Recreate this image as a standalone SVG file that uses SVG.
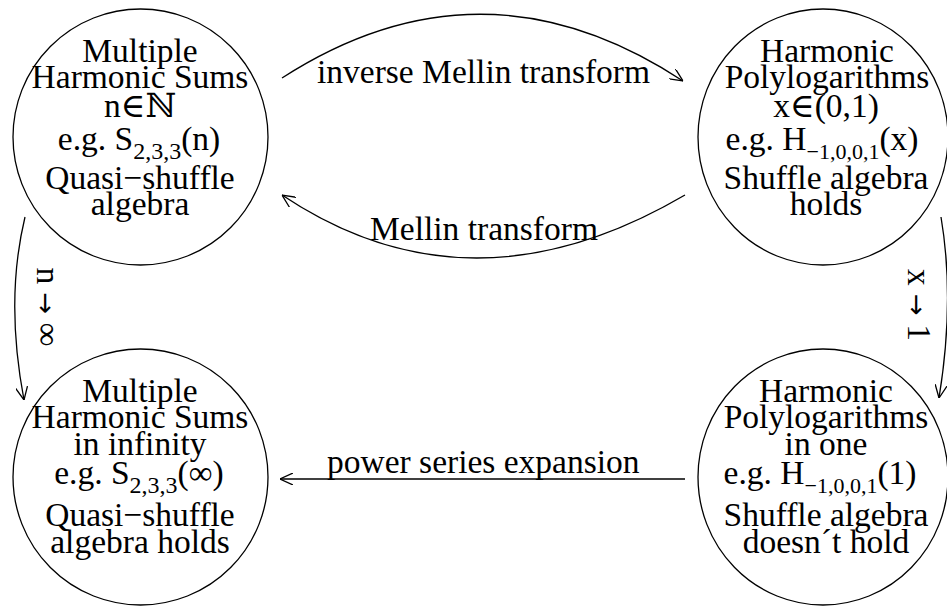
<svg xmlns="http://www.w3.org/2000/svg" width="947" height="608" viewBox="0 0 947 608">
<style>
text{font-family:"Liberation Serif","DejaVu Serif",serif;font-size:33.5px;fill:#000}
.c{text-anchor:middle}
.ring{fill:none;stroke:#000;stroke-width:1.3}
.edge{fill:none;stroke:#000;stroke-width:1.3;marker-end:url(#ah)}
.sub{font-size:24px}
.sub2{font-size:22px}
.arr{font-family:"DejaVu Sans",sans-serif;font-size:26px}
</style>
<defs>
<marker id="ah" viewBox="0 0 13 12" refX="13" refY="6" markerWidth="13" markerHeight="12" markerUnits="userSpaceOnUse" orient="auto">
<path d="M0,0 L13,6 L0,12" fill="none" stroke="#000" stroke-width="1.3"/>
</marker>
</defs>
<g id="connectors">
<path class="edge" d="M282,78 Q482,-51 683,81"/>
<path class="edge" d="M685,195 Q470,321 282,195"/>
<path class="edge" d="M685,479 L280,479"/>
<path class="edge" d="M25,217 Q5,300 24,400"/>
<path class="edge" d="M941,217 Q955,300 939,398"/>
<text x="317" y="83">inverse Mellin transform</text>
<text x="370" y="240">Mellin transform</text>
<text x="327" y="473">power series expansion</text>
<text class="c" transform="translate(37,307) rotate(90)">n <tspan class="arr">→</tspan> ∞</text>
<text class="c" transform="translate(908,305) rotate(90)">x <tspan class="arr">→</tspan> 1</text>
</g>
<g id="mhs">
<ellipse class="ring" cx="140.5" cy="137" rx="127.5" ry="128"/>
<text class="c" x="140" y="62">Multiple</text>
<text class="c" x="140" y="88">Harmonic Sums</text>
<text class="c" x="140" y="117">n∈ℕ</text>
<text class="c" x="139" y="150">e.g. S<tspan class="sub" dy="9">2,3,3</tspan><tspan dy="-9">(n)</tspan></text>
<text class="c" x="140" y="189">Quasi−shuffle</text>
<text class="c" x="140" y="215">algebra</text>
</g>
<g id="hpl">
<ellipse class="ring" cx="823" cy="137" rx="125" ry="128"/>
<text class="c" x="827" y="62">Harmonic</text>
<text class="c" x="827" y="88">Polylogarithms</text>
<text class="c" x="826" y="117">x∈(0,1)</text>
<text class="c" x="822" y="150">e.g. H<tspan class="sub2" dy="9">−1,0,0,1</tspan><tspan dy="-9">(x)</tspan></text>
<text class="c" x="826" y="189">Shuffle algebra</text>
<text class="c" x="826" y="215">holds</text>
</g>
<g id="mhs-inf">
<ellipse class="ring" cx="140.5" cy="477" rx="127.5" ry="128"/>
<text class="c" x="140" y="402">Multiple</text>
<text class="c" x="140" y="428">Harmonic Sums</text>
<text class="c" x="140" y="455">in infinity</text>
<text class="c" x="139" y="484">e.g. S<tspan class="sub" dy="9">2,3,3</tspan><tspan dy="-9">(∞)</tspan></text>
<text class="c" x="140" y="526">Quasi−shuffle</text>
<text class="c" x="140" y="553">algebra holds</text>
</g>
<g id="hpl-one">
<ellipse class="ring" cx="823" cy="477" rx="125" ry="128"/>
<text class="c" x="826" y="402">Harmonic</text>
<text class="c" x="826" y="428">Polylogarithms</text>
<text class="c" x="826" y="455">in one</text>
<text class="c" x="820" y="484">e.g. H<tspan class="sub2" dy="9">−1,0,0,1</tspan><tspan dy="-9">(1)</tspan></text>
<text class="c" x="826" y="526">Shuffle algebra</text>
<text class="c" x="826" y="553">doesn´t hold</text>
</g>
</svg>
